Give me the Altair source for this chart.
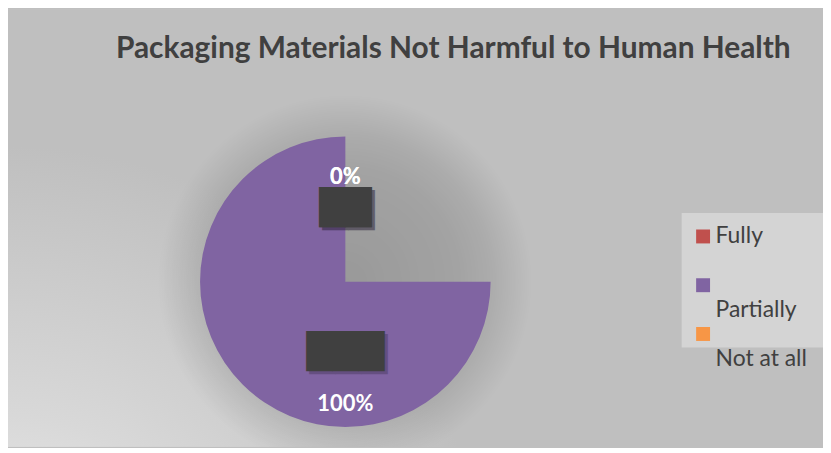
import math
import altair as alt
import pandas as pd

# ---- data ----
categories = ["Fully", "Partially", "Not at all"]
values = [0, 100, 0]
labels = ["0%", "100%", "0%"]
colors = ["#c0504d", "#8064a2", "#f79646"]
order = [1, 2, 3]

title_text = "Packaging Materials Not Harmful to Human Health"

df = pd.DataFrame({"category": categories, "value": values,
                   "label": labels, "order": order})

W, H = 819, 440
CX, CY = 339, 274
R = 146

one = pd.DataFrame({"a": [0]})

bg = alt.Chart(one).mark_rect(
    fill={"gradient": "radial", "x1": 0, "y1": 1, "r1": 0,
          "x2": 0, "y2": 1, "r2": 0.6,
          "stops": [{"offset": 0, "color": "#f3f3f3"},
                    {"offset": 0.45, "color": "#d8d8d8"},
                    {"offset": 1, "color": "#bfbfbf"}]}
).encode(x=alt.value(0), x2=alt.value("width"), y=alt.value(0), y2=alt.value("height"))

legend_box = alt.Chart(one).mark_rect(fill="#d4d4d4").encode(
    x=alt.value(677), x2=alt.value("width"), y=alt.value(205), y2=alt.value(340))

shadow = alt.Chart(one).mark_arc(
    theta=0, theta2=2 * math.pi, radius=188, clip=True,
    fill={"gradient": "radial", "x1": 0.5, "y1": 0.5, "r1": 0,
          "x2": 0.5, "y2": 0.5, "r2": 0.5,
          "stops": [{"offset": 0, "color": "rgba(0,0,0,0.2)"},
                    {"offset": 0.6, "color": "rgba(0,0,0,0.15)"},
                    {"offset": 0.78, "color": "rgba(0,0,0,0.1)"},
                    {"offset": 1, "color": "rgba(0,0,0,0)"}]}
).encode(x=alt.value(CX), y=alt.value(CY))

base = alt.Chart(df)

pie = base.mark_arc(radius=R).encode(
    theta=alt.Theta("value:Q", stack=True,
                    scale=alt.Scale(range=[math.pi / 2, 2 * math.pi])),
    color=alt.Color("category:N",
                    scale=alt.Scale(domain=categories, range=colors),
                    legend=alt.Legend(
                        title=None, orient="none", legendX=687, legendY=217,
                        symbolType="square", symbolSize=196, symbolStrokeWidth=0,
                        labelFont="Lato", labelFontSize=23, labelColor="#404040",
                        padding=0, rowPadding=0,
                        labelOffset=1, labelBaseline="middle",
                        labelExpr="datum.label == 'Fully' ? [datum.label, ' '] : [' ', datum.label]")),
    order=alt.Order("order:Q"),
    x=alt.value(CX), y=alt.value(CY),
)


def polar_text(expr, radius, dx=0, dy=0, **kw):
    return base.transform_calculate(t=expr).mark_text(
        radius=radius, dx=dx, dy=dy, **kw
    ).encode(
        theta=alt.Theta("value:Q", stack=True),
        order=alt.Order("order:Q"),
        text="t:N",
        x=alt.value(CX), y=alt.value(CY),
    )


box_font = dict(font="DejaVu Sans", fontSize=34)
zero_box_sh = polar_text("datum.value == 0 ? '██' : ''", 73, dx=3, dy=3,
                         color="#2a2036", opacity=0.3, **box_font)
full_box_sh = polar_text("datum.value > 0 ? '███' : ''", 72, dx=3, dy=3,
                         color="#2a2036", opacity=0.3, **box_font)
zero_box = polar_text("datum.value == 0 ? '██' : ''", 73, color="#404040", **box_font)
full_box = polar_text("datum.value > 0 ? '███' : ''", 72, color="#404040", **box_font)

lbl_font = dict(font="Lato", fontSize=22, fontWeight="bold", color="white")
zero_lbl = polar_text("datum.value == 0 ? datum.label : ''", 105, **lbl_font)
full_lbl = polar_text("datum.value > 0 ? datum.label : ''", 123, **lbl_font)

chart = alt.layer(
    bg, legend_box, shadow, pie, zero_box_sh, full_box_sh, zero_box, full_box,
    zero_lbl, full_lbl
).resolve_scale(theta="independent").properties(
    width=W, height=H,
    title=alt.Title(title_text, font="Lato", fontSize=30, fontWeight="bold",
                    color="#404040", anchor="middle", frame="group", dx=38,
                    offset=-79, baseline="alphabetic"),
    background="#bfbfbf",
    padding=0,
).configure_view(stroke=None)

chart.save("out.html", embed_options={"renderer": "svg", "actions": False})
